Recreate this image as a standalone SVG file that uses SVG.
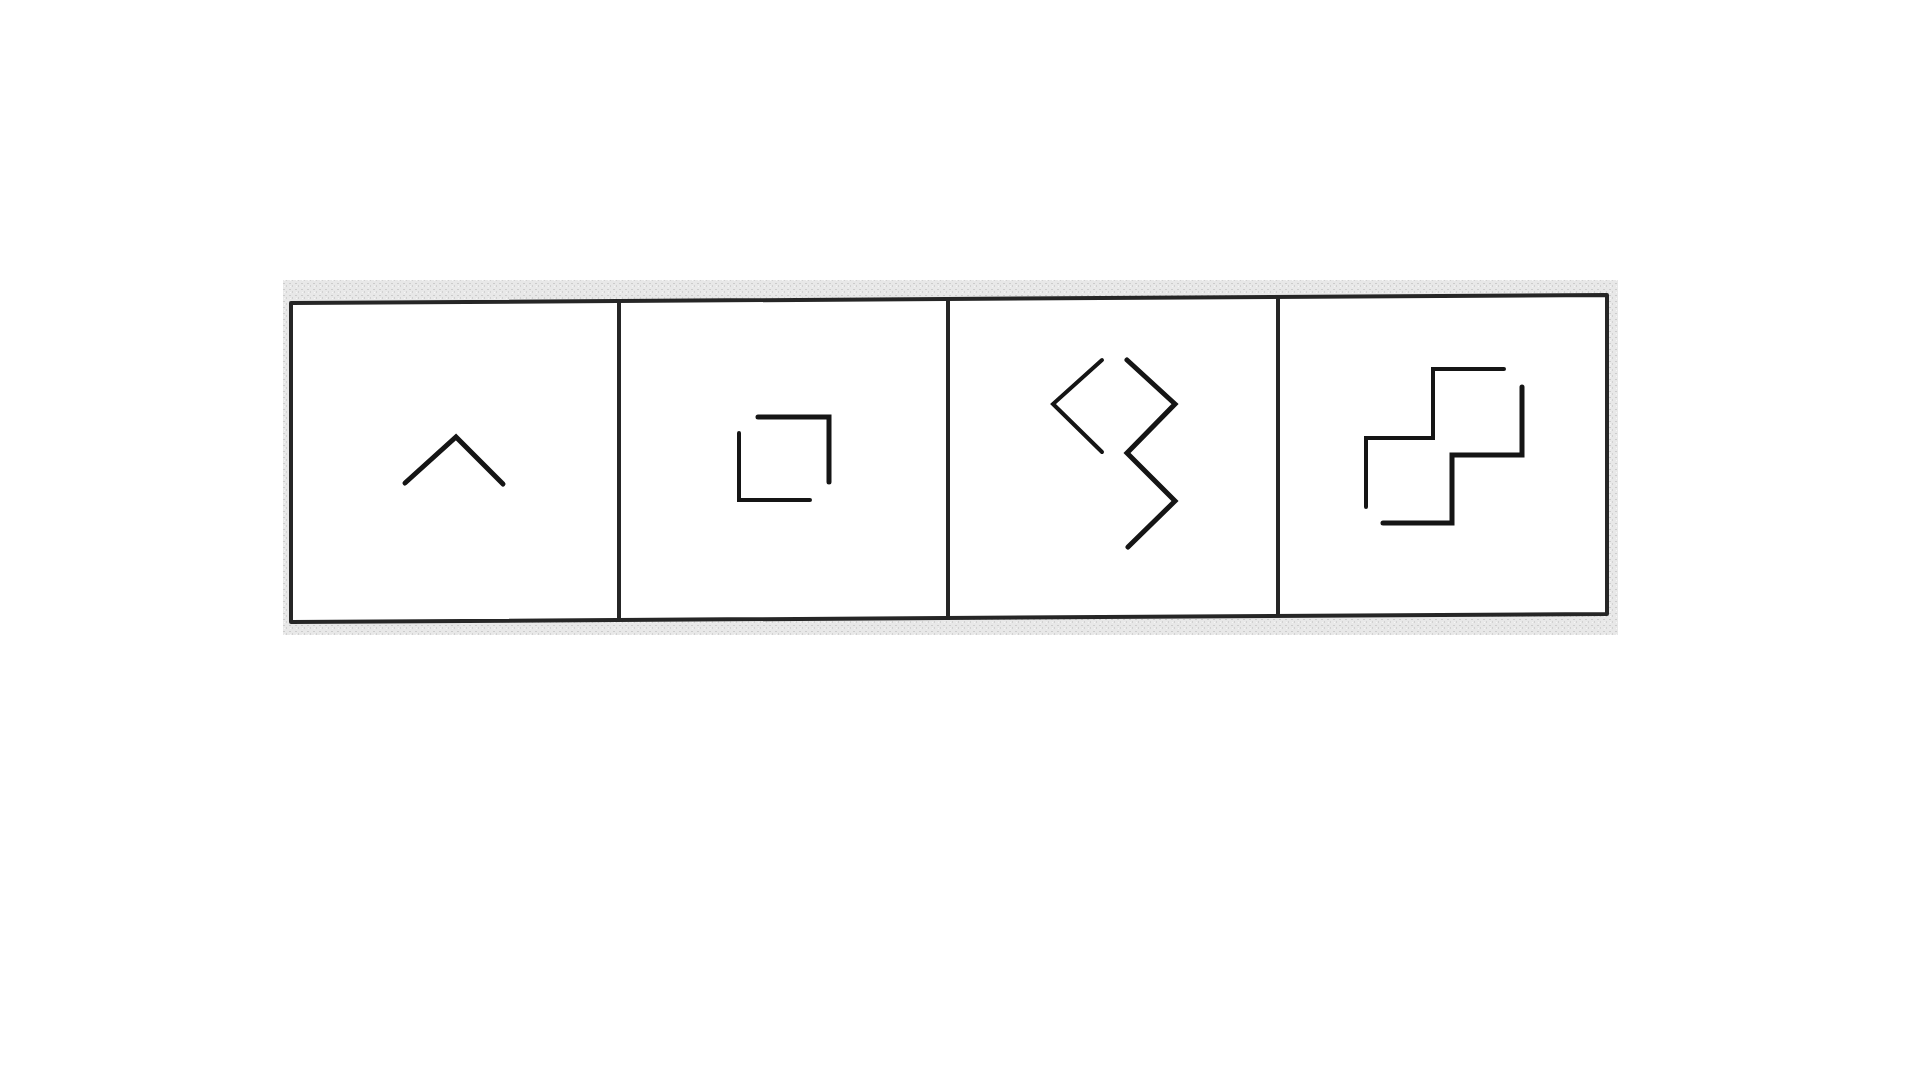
<svg xmlns="http://www.w3.org/2000/svg" width="1920" height="1080" viewBox="0 0 1920 1080">
<defs>
<pattern id="speck" width="6" height="6" patternUnits="userSpaceOnUse">
<rect width="6" height="6" fill="#e8e8e8"/>
<rect x="1" y="1" width="2" height="1" fill="#cccccc"/>
<rect x="4" y="3" width="1" height="2" fill="#d2d2d2"/>
<rect x="2" y="4" width="1" height="1" fill="#f6f6f6"/>
</pattern>
</defs>
<style>
.frame{fill:#fff;stroke:#262626;stroke-width:4;stroke-linejoin:round}
.div{stroke:#262626;stroke-width:4;fill:none}
.fig{fill:none;stroke:#151515;stroke-width:4.5;stroke-linecap:round;stroke-linejoin:miter}
</style>
<rect width="1920" height="1080" fill="#fff"/>
<g id="frame">
<rect x="283" y="280" width="1335" height="355" fill="url(#speck)"/>
<polygon class="frame" points="291,303 1607,295 1607,614 291,622"/>
<line class="div" x1="619" y1="301" x2="619" y2="620"/>
<line class="div" x1="948" y1="299" x2="948" y2="618"/>
<line class="div" x1="1278" y1="297" x2="1278" y2="616"/>
</g>
<g id="panel1">
<polyline class="fig" points="405,483 456,437 503,484" style="stroke-width:5"/>
</g>
<g id="panel2">
<polyline class="fig" points="758,417 829,417 829,482" style="stroke-width:5"/>
<polyline class="fig" points="739,433 739,500 810,500" style="stroke-width:4"/>
</g>
<g id="panel3">
<polyline class="fig" points="1102,360 1053,404 1102,452" style="stroke-width:4"/>
<polyline class="fig" points="1127,360 1175,404 1127,453 1175,501 1128,547" style="stroke-width:5"/>
</g>
<g id="panel4">
<polyline class="fig" points="1366,507 1366,438 1433,438 1433,369 1504,369" style="stroke-width:4"/>
<polyline class="fig" points="1383,523 1452,523 1452,455 1522,455 1522,387" style="stroke-width:5"/>
</g>
</svg>
